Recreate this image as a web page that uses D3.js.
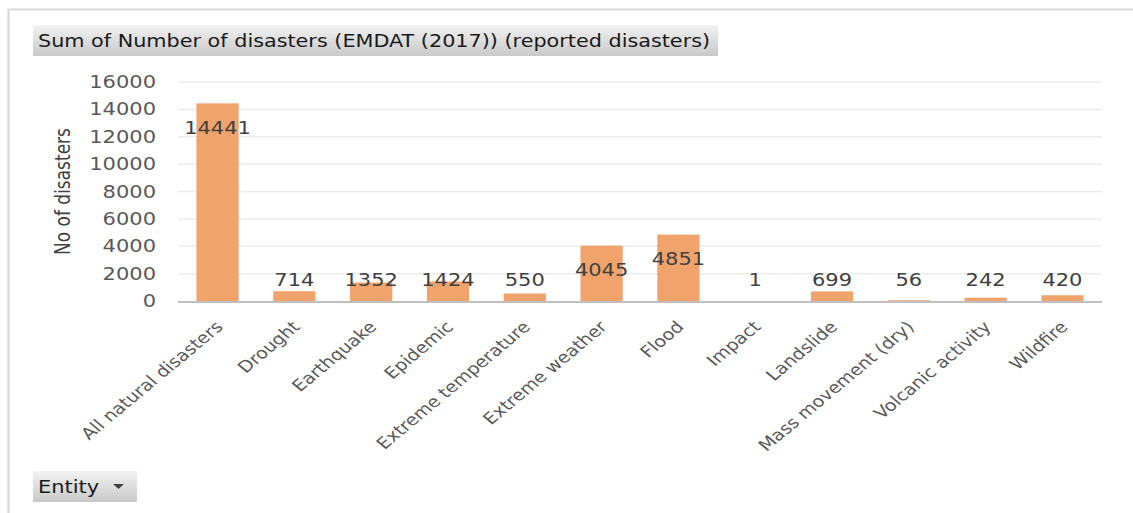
<!DOCTYPE html>
<html>
<head>
<meta charset="utf-8">
<script src="https://cdn.jsdelivr.net/npm/d3@7"></script>
<style>
  html, body { margin: 0; padding: 0; background: #fff; }
  svg { display: block; font-family: "DejaVu Sans", Verdana, sans-serif; }
</style>
</head>
<body>
<svg id="chart" width="1133" height="513"></svg>
<script>
// Disaster categories and reported counts (EMDAT 2017)
const categories = [
  "All natural disasters", "Drought", "Earthquake", "Epidemic",
  "Extreme temperature", "Extreme weather", "Flood", "Impact",
  "Landslide", "Mass movement (dry)", "Volcanic activity", "Wildfire"
];
const counts = [14441, 714, 1352, 1424, 550, 4045, 4851, 1, 699, 56, 242, 420];
const yTicks = [0, 2000, 4000, 6000, 8000, 10000, 12000, 14000, 16000];

const titleText = "Sum of Number of disasters (EMDAT (2017)) (reported disasters)";
const yTitle = "No of disasters";
const filterLabel = "Entity";

// The drawing uses a horizontally widened coordinate space (text appears wide)
const W = 1133, H = 513, SX = 1.2;
const IW = W / SX;
const svg = d3.select("#chart")
  .attr("viewBox", `0 0 ${IW} ${H}`)
  .attr("preserveAspectRatio", "none");
const sx = v => v / SX;   // screen x -> inner x

const plot = { left: sx(178), right: sx(1102), top: 82, bottom: 301 };

const defs = svg.append("defs");
const grad = defs.append("linearGradient").attr("id", "btnGrad")
  .attr("x1", 0).attr("y1", 0).attr("x2", 0).attr("y2", 1);
grad.append("stop").attr("offset", "0%").attr("stop-color", "#f2f2f2");
grad.append("stop").attr("offset", "100%").attr("stop-color", "#c9c9c9");

// Outer frame
svg.append("path")
  .attr("d", `M${sx(8.5)},${H} V9.5 H${IW}`)
  .attr("fill", "none").attr("stroke", "#d9d9d9").attr("stroke-width", 2);

// Title box
svg.append("rect").attr("x", sx(33)).attr("y", 25).attr("width", sx(685)).attr("height", 31)
  .attr("fill", "url(#btnGrad)");
svg.append("text").attr("x", sx(38)).attr("y", 47)
  .attr("font-size", 17.3).attr("fill", "#1a1a1a").text(titleText);

// Scales
const x = d3.scaleBand().domain(categories).range([plot.left, plot.right]).paddingInner(0.45).paddingOuter(0.24);
const y = d3.scaleLinear().domain([0, 16000]).range([plot.bottom, plot.top]);

// Gridlines
svg.append("g").selectAll("line").data(yTicks.filter(d => d > 0)).join("line")
  .attr("x1", plot.left).attr("x2", plot.right)
  .attr("y1", d => y(d)).attr("y2", d => y(d))
  .attr("stroke", "#ececec").attr("stroke-width", 1.5);

// Y axis tick labels
const yAxis = svg.append("g").attr("transform", `translate(${sx(156)},0)`)
  .call(d3.axisLeft(y).tickValues(yTicks).tickFormat(d3.format("d")).tickSize(0).tickPadding(0));
yAxis.select(".domain").remove();
yAxis.selectAll("text").attr("font-size", 17.5).attr("fill", "#595959")
  .attr("font-family", "DejaVu Sans, Verdana, sans-serif");

// Y axis title
svg.append("text")
  .attr("transform", `translate(${sx(70)},${(plot.top + plot.bottom) / 2}) rotate(-90)`)
  .attr("text-anchor", "middle").attr("font-size", 17).attr("fill", "#404040")
  .text(yTitle);

// Bars
svg.append("g").selectAll("rect").data(categories).join("rect")
  .attr("x", d => x(d)).attr("width", x.bandwidth())
  .attr("y", (d, i) => y(counts[i]))
  .attr("height", (d, i) => y(0) - y(counts[i]))
  .attr("fill", "#f0a46c");

// Baseline
svg.append("line").attr("x1", plot.left).attr("x2", plot.right)
  .attr("y1", y(0) + 1).attr("y2", y(0) + 1)
  .attr("stroke", "#bfbfbf").attr("stroke-width", 2);

// Value labels
svg.append("g").selectAll("text").data(categories).join("text")
  .attr("x", d => x(d) + x.bandwidth() / 2)
  .attr("y", (d, i) => Math.min(y(counts[i]) + 24, y(0) - 21) + 6.5)
  .attr("text-anchor", "middle").attr("font-size", 17.5).attr("fill", "#404040")
  .text((d, i) => counts[i]);

// X axis category labels, rotated
const xAxis = svg.append("g").attr("transform", `translate(${sx(-3)},${plot.bottom + 19})`)
  .call(d3.axisBottom(x).tickSize(0).tickPadding(0));
xAxis.select(".domain").remove();
xAxis.selectAll("text")
  .attr("font-size", 16).attr("fill", "#595959")
  .attr("font-family", "DejaVu Sans, Verdana, sans-serif")
  .attr("text-anchor", "end").attr("dy", "0.7em").attr("dx", "0")
  .attr("transform", "rotate(-45)");

// Filter button
svg.append("rect").attr("x", sx(33)).attr("y", 471).attr("width", sx(104)).attr("height", 31)
  .attr("fill", "url(#btnGrad)");
svg.append("text").attr("x", sx(38)).attr("y", 493)
  .attr("font-size", 17.5).attr("fill", "#1a1a1a").text(filterLabel);
svg.append("path").attr("d", `M${sx(113)},484 h${sx(11)} l${sx(-5.5)},5 z`).attr("fill", "#404040");
</script>
</body>
</html>
